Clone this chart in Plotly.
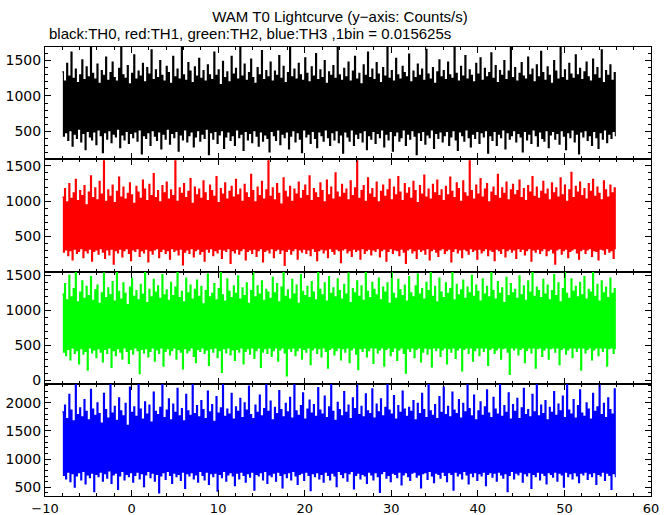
import plotly.graph_objects as go
from plotly.subplots import make_subplots

BIN_START = -8.0
BIN_WIDTH = 0.125  # display resampling of the 0.015625 s bins

th0_black = [
1340,430,1210,480,1460,370,1280,510,1620,290,1250,460,1380,400,1190,530,1300,350,1510,470,1230,240,1410,500,1270,420,1690,380,1320,490,1240,310,
1450,520,1180,440,1360,200,1290,480,1550,390,1220,510,1330,340,1480,460,1260,420,1210,530,1390,270,1690,450,1300,380,1250,500,1430,330,1170,470,
1320,410,1580,490,1240,360,1350,520,1280,180,1460,440,1200,400,1400,480,1310,300,1650,510,1230,430,1370,370,1260,490,1500,250,1290,460,1210,390,
1420,530,1330,320,1180,470,1560,410,1270,500,1380,220,1240,450,1690,380,1300,520,1220,350,1470,440,1350,490,1190,280,1410,420,1280,510,1530,360,
1250,460,1360,400,1210,530,1440,170,1300,480,1230,390,1620,500,1290,330,1370,450,1160,510,1490,260,1260,420,1340,490,1200,370,1560,440,1310,300,
1390,520,1240,410,1690,460,1280,230,1450,500,1220,380,1330,470,1520,340,1260,510,1180,430,1400,290,1300,490,1640,360,1230,450,1360,400,1270,210,
1480,500,1210,440,1350,370,1290,520,1570,310,1250,460,1420,410,1190,490,1330,250,1690,430,1270,510,1380,350,1240,480,1460,390,1300,200,1220,520,
1540,420,1320,460,1200,330,1410,500,1280,400,1600,270,1230,490,1370,440,1260,360,1500,520,1180,410,1340,300,1290,480,1430,380,1250,510,1690,340,
1300,450,1220,190,1390,490,1270,420,1480,360,1210,520,1350,300,1560,460,1240,400,1320,480,1170,350,1440,510,1290,240,1620,440,1260,390,1380,500,
1230,330,1470,470,1310,410,1190,520,1400,280,1280,460,1690,380,1250,500,1360,220,1210,440,1530,490,1300,360,1240,410,1420,520,1330,300,1270,460,
1590,390,1200,510,1350,430,1260,170,1450,480,1290,370,1380,500,1220,320,1660,450,1310,410,1240,520,1400,260,1180,470,1340,400,1510,490,1270,350,
1360,440,1230,500,1480,300,1300,420,1250,510,1690,380,1320,230,1210,490,1420,440,1280,360,1570,520,1240,410,1370,280,1290,460,1200,400,1460,500,
1310,330,1540,480,1220,420,1390,510,1270,190,1330,440,1610,370,1250,500,1430,300,1190,460,1360,410,1290,520,1500,250,1230,480,1350,390,1690,440,
1260,510,1400,350,1210,470,1320,420,1470,210,1280,500,1240,380,1550,460,1300,330,1380,520,1200,440,1440,290,1270,490,1630,400,1330,360,1220,510,
1410,270,1290,450,1180,500,1500,390,1350,470,1240,320,1690,510,1260,430,1370,240,1220,480,1460,410,1310,520,1250,350,1580,460,1300,180,1390,490,
1230,420,1340,510,1480,370,1270,440,1210,300,1520,500,1300,410,1400,260,1250,480,1650,390,1190,520,1360,340,1290,460,1440,400,1220,500,1330,430,
]

th1_red = [
1060,280,1180,310,990,230,1250,300,1040,170,1120,320,1310,260,1010,290,1150,330,1080,200,1220,300,950,270,1130,320,1360,150,1050,290,1190,310,
1020,250,1280,330,1100,280,1570,190,1000,310,1160,240,1070,320,1230,110,980,300,1140,270,1340,320,1060,210,1200,300,1030,330,1110,260,1260,160,
1090,310,970,290,1210,330,1130,220,1040,300,1300,270,1170,320,1010,140,1240,300,1080,250,1390,310,1050,330,1150,200,990,290,1220,320,1120,260,
1270,300,1030,180,1160,330,1080,290,1570,310,1000,240,1190,320,1110,100,1250,280,1050,310,1140,260,1320,330,970,210,1200,300,1090,320,1170,250,
1040,290,1290,150,1120,320,1010,280,1230,330,1150,230,1070,300,1350,270,980,320,1180,190,1100,310,1260,290,1030,330,1140,120,1210,300,1060,270,
1310,320,1090,250,1170,300,1000,330,1240,170,1120,290,1050,310,1380,260,1150,320,990,220,1200,300,1080,330,1280,140,1030,290,1160,310,1570,270,
1070,330,1190,200,1020,300,1250,320,1110,260,960,310,1330,90,1140,290,1060,320,1210,250,1000,300,1170,330,1100,180,1270,310,1040,280,1150,320,
1230,260,1080,310,1360,230,1010,330,1180,290,1120,160,1050,300,1260,320,1150,270,990,310,1300,200,1090,330,1200,290,1030,250,1400,320,1130,300,
1060,130,1240,310,1110,330,1170,270,1020,300,1290,220,1080,320,1190,290,1570,310,1040,180,1150,330,1220,260,1000,300,1330,320,1100,240,1180,310,
1050,290,1270,330,990,210,1140,300,1230,320,1070,150,1160,290,1310,330,1020,260,1200,310,1090,300,1350,230,1130,320,1010,280,1250,120,1110,310,
1190,330,1040,270,1280,300,1150,190,980,320,1220,290,1100,310,1370,250,1060,330,1170,170,1030,300,1240,320,1120,280,1300,220,1080,310,1160,330,
1010,260,1210,300,1090,320,1340,140,1140,290,1050,330,1260,270,1180,310,1000,200,1290,320,1120,300,1070,250,1570,330,1150,290,1030,310,1230,180,
1100,320,1320,270,1060,300,1170,330,1250,230,990,310,1130,290,1200,160,1080,320,1380,300,1040,260,1190,330,1110,210,1270,300,1020,320,1160,280,
1240,310,1090,190,1150,330,1300,290,1050,320,1180,240,1010,300,1220,330,1130,150,1350,310,1070,280,1200,320,1040,260,1140,300,1280,330,1100,230,
1170,300,1020,320,1260,270,1120,110,1190,310,1060,330,1330,250,1090,300,1230,320,1000,200,1160,290,1410,310,1050,330,1210,270,1130,180,1270,300,
1080,320,1180,260,1030,310,1250,330,1140,220,1310,300,1070,290,1200,170,1110,320,1020,310,1290,250,1160,330,1060,280,1230,300,1120,190,1190,320,
]

th2_green = [
1230,400,1380,350,1150,440,1500,290,1190,460,1310,380,1550,420,1120,230,1260,450,1420,370,1170,410,1340,140,1210,460,1480,390,1140,430,1290,320,
1360,450,1100,400,1250,260,1530,440,1180,380,1320,460,1220,180,1410,420,1130,350,1550,450,1270,400,1160,300,1390,460,1240,410,1080,240,1330,440,
1460,370,1200,460,1280,420,1150,90,1370,440,1230,390,1550,450,1110,330,1300,410,1190,460,1440,270,1260,430,1350,380,1170,460,1510,200,1220,410,
1290,450,1140,360,1400,420,1210,460,1330,300,1550,440,1180,400,1270,160,1120,450,1460,390,1250,420,1360,460,1160,340,1300,250,1430,440,1200,410,
1340,460,1090,380,1280,430,1520,210,1190,450,1240,400,1380,460,1150,320,1310,420,1550,110,1220,450,1130,390,1450,460,1270,360,1180,430,1350,280,
1240,440,1490,400,1160,460,1320,230,1210,410,1390,450,1100,370,1280,460,1550,310,1190,420,1350,460,1230,180,1420,400,1140,450,1300,380,1260,460,
1170,340,1470,420,1250,460,1380,270,1120,430,1330,460,1550,390,1200,60,1290,450,1160,410,1440,460,1230,350,1360,420,1100,460,1510,300,1270,440,
1210,400,1340,460,1180,220,1410,430,1260,460,1150,380,1550,450,1300,330,1220,460,1390,410,1130,170,1480,440,1240,460,1320,360,1190,420,1450,460,
1280,290,1160,450,1370,400,1230,460,1530,250,1110,430,1310,460,1250,370,1420,150,1200,450,1350,410,1140,460,1550,330,1270,420,1180,460,1400,240,
1300,460,1220,390,1460,430,1150,460,1330,200,1260,440,1390,460,1100,350,1550,410,1240,460,1170,280,1440,430,1290,460,1210,380,1360,100,1130,450,
1480,410,1250,460,1190,320,1350,440,1520,460,1230,260,1310,400,1160,460,1400,370,1280,450,1550,190,1200,460,1340,420,1120,460,1460,340,1260,430,
1180,460,1390,230,1240,450,1310,400,1550,460,1150,310,1370,430,1220,460,1290,130,1430,440,1170,460,1330,380,1250,460,1500,270,1200,420,1360,460,
1270,350,1130,460,1450,410,1230,460,1340,210,1190,440,1550,460,1280,380,1160,430,1410,460,1240,300,1320,450,1110,460,1470,400,1210,80,1380,460,
1250,430,1300,460,1170,360,1490,440,1220,460,1350,250,1140,420,1420,460,1260,390,1550,460,1200,170,1330,450,1280,460,1180,340,1440,430,1230,460,
1360,300,1150,450,1280,460,1510,400,1210,460,1390,220,1120,440,1310,460,1550,370,1240,430,1170,460,1450,320,1270,460,1340,410,1190,460,1400,140,
1220,460,1480,390,1160,440,1300,460,1260,290,1550,430,1200,460,1370,350,1130,460,1420,410,1250,460,1330,200,1180,450,1460,460,1240,380,1310,440,
]

th3_blue = [
1840,710,1960,650,1720,770,2150,600,1870,740,1680,500,2340,700,1790,760,1910,630,1750,780,2060,560,1850,720,1700,670,2240,750,1890,420,1780,730,
2000,690,1810,770,1640,610,2170,740,1880,660,1730,790,2340,570,1820,720,1940,750,1690,460,2090,700,1860,780,1770,630,1990,730,1600,690,2280,760,
1830,590,1930,710,1760,770,2340,650,1890,740,1710,510,2020,720,1800,780,1960,670,1660,750,2190,610,1850,730,1790,400,1920,700,2340,760,1740,640,
1870,780,2070,710,1700,570,1980,750,1830,690,2260,730,1770,620,1900,770,1680,480,2150,740,1860,700,1780,760,2340,650,1810,720,1950,590,1750,780,
2040,710,1880,630,1720,770,2210,550,1840,740,1970,690,1670,750,2110,430,1820,730,1910,670,2340,780,1760,610,1890,720,1800,760,2170,700,1710,530,
1930,750,1850,650,2080,770,1740,710,2000,590,1870,740,2300,680,1790,770,1720,450,1960,730,1830,700,2140,760,1770,630,1900,780,2340,570,1850,720,
2030,690,1700,750,1920,610,1810,770,2220,710,1880,490,1750,740,1990,670,1840,760,2100,630,1730,780,2340,700,1860,550,1780,730,1950,750,2180,620,
1710,770,1890,710,2050,440,1820,740,1970,690,1760,760,2270,650,1870,730,1800,590,2120,770,1740,710,1930,630,2340,750,1850,700,1690,510,2010,780,
1880,730,1770,670,2200,760,1830,610,1960,740,1720,780,2090,470,1900,710,2340,750,1790,650,1940,730,1750,700,2160,570,1860,770,1810,720,2250,630,
1730,760,1980,690,1840,410,2070,740,1770,780,1920,660,2340,710,1870,600,1800,750,2130,730,1710,670,1950,770,1830,540,2210,720,1890,760,1760,690,
1920,620,1850,750,2040,770,1700,680,1990,720,1810,490,2170,740,1880,760,1740,640,2340,780,1860,700,1780,580,1970,750,1720,730,2110,660,1830,770,
2280,710,1790,600,1940,760,1750,730,2190,450,1870,770,1810,700,2060,740,1730,650,1990,780,1840,720,2340,560,1900,750,1770,690,2140,760,1700,620,
1860,740,2020,700,1780,770,1930,530,2230,730,1820,760,1740,680,2100,750,1890,610,1800,770,2340,720,1760,660,1950,740,1830,420,2180,710,1710,780,
1970,650,1850,750,2080,720,1720,770,1910,590,2260,740,1790,700,1880,760,1750,480,2150,730,1840,690,2340,770,1770,630,1960,750,1810,710,2040,560,
1700,760,1920,730,1830,680,2200,770,1780,610,1980,750,1860,720,2120,500,1740,770,2340,690,1870,740,1800,650,2060,760,1730,700,1950,580,2230,750,
1820,720,1760,770,2000,640,1890,740,1710,690,2170,760,1850,550,1930,730,2340,700,1790,770,1990,620,1740,750,2090,710,1880,460,1800,740,2250,680,
]

series = [
    (th0_black, "black", [106, 1691], [500, 1000, 1500]),
    (th1_red, "#ff0000", [6, 1593], [500, 1000, 1500]),
    (th2_green, "#00ff00", [-52, 1553], [0, 500, 1000, 1500]),
    (th3_blue, "#0000ff", [345, 2339], [500, 1000, 1500, 2000]),
]

FONT = "Liberation Sans, Arial, Helvetica, sans-serif"
TICKFONT = "DejaVu Sans, Verdana, sans-serif"

fig = make_subplots(rows=4, cols=1, shared_xaxes=True, vertical_spacing=0)

for r, (vals, col, yr, tv) in enumerate(series, start=1):
    t = [BIN_START + BIN_WIDTH * i for i in range(len(vals))]
    fig.add_trace(go.Scatter(x=t, y=vals, mode="lines",
                             line=dict(color=col, width=1.1, shape="hv"),
                             showlegend=False, hoverinfo="skip"), row=r, col=1)
    fig.update_yaxes(range=yr, tickvals=tv, ticks="inside", ticklen=6,
                     tickwidth=1, tickcolor="black", automargin=False,
                     showline=True, linecolor="black", linewidth=1,
                     mirror="ticks", showgrid=False, zeroline=False,
                     minor=dict(ticks="inside", ticklen=3, dtick=100,
                                tick0=0, tickcolor="black", showgrid=False),
                     tickfont=dict(family=TICKFONT, size=14, color="black"),
                     row=r, col=1)
    fig.update_xaxes(range=[-10, 60], dtick=10, tick0=0, ticks="inside",
                     ticklen=6, tickwidth=1, tickcolor="black", automargin=False,
                     showline=True, linecolor="black", linewidth=1,
                     mirror="ticks", showgrid=False, zeroline=False,
                     minor=dict(ticks="inside", ticklen=3, dtick=2,
                                tick0=0, tickcolor="black", showgrid=False),
                     showticklabels=(r == 4),
                     tickfont=dict(family=TICKFONT, size=13, color="black"),
                     row=r, col=1)

fig.update_layout(
    width=672, height=515,
    margin=dict(l=45, r=21, t=47, b=19),
    paper_bgcolor="white", plot_bgcolor="white",
    font=dict(family=FONT, size=15, color="black"),
    title=dict(text="WAM T0 Lightcurve (y\u2212axis: Counts/s)",
               x=340 / 672, xanchor="center", y=1 - 17 / 515, yanchor="middle",
               font=dict(family=FONT, size=15, color="black")),
    annotations=[dict(text="black:TH0, red:TH1, green:TH2, blue:TH3 ,1bin = 0.015625s",
                      xref="paper", yref="paper", x=0.003, y=1, xanchor="left",
                      yanchor="bottom", yshift=3, showarrow=False,
                      font=dict(family=FONT, size=15, color="black"))],
)

fig.write_html("out.html", config={"displayModeBar": False},
               post_script="document.body.style.margin='0px';")
